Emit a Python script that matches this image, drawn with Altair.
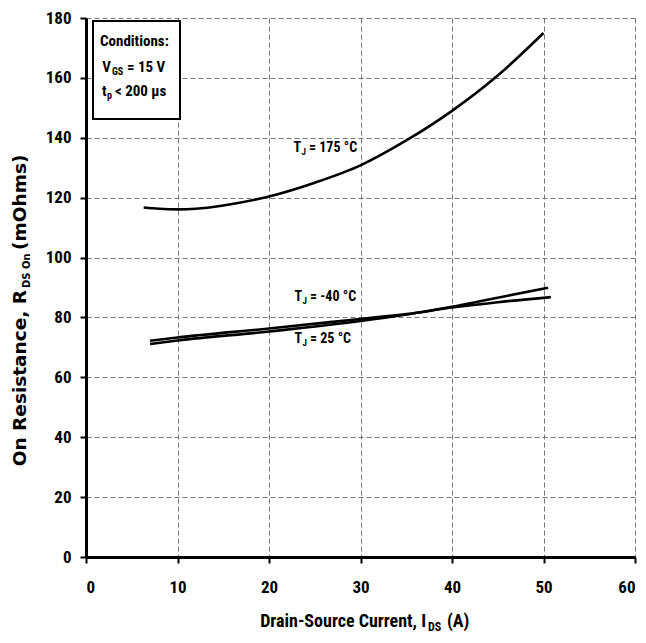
import altair as alt
import pandas as pd

# ---- data ----
x175 = [6.3, 8, 10, 12, 15, 20, 25, 30, 35, 40, 45, 50]
r175 = [116.7, 116.3, 116.1, 116.3, 117.4, 120.4, 125.0, 130.8, 139.1, 149.0, 160.8, 175.0]
xm40 = [7, 10, 20, 30, 35, 40, 45, 50.5]
rm40 = [71.1, 72.3, 75.3, 78.8, 81.0, 83.6, 86.6, 89.9]
x25 = [7, 10, 20, 30, 35, 40, 45, 50.8]
r25 = [72.2, 73.3, 76.3, 79.5, 81.1, 83.3, 85.1, 86.8]
x_ticks = [0, 10, 20, 30, 40, 50, 60]
y_ticks = [0, 20, 40, 60, 80, 100, 120, 140, 160, 180]

rows = []
for name, xs, ys in [("175", x175, r175), ("-40", xm40, rm40), ("25", x25, r25)]:
    for a, b in zip(xs, ys):
        rows.append({"series": name, "ids": a, "rds": b})
df = pd.DataFrame(rows)

NARROW = "Liberation Sans Narrow, Roboto Condensed, Roboto, sans-serif"
WIDE = "DejaVu Sans, Verdana, sans-serif"

W, H = 549, 539

axis_common = dict(title=None, grid=True, gridDash=[5, 3], gridColor="#777777", gridWidth=1,
                   domainColor="black", domainWidth=3, tickColor="black", tickWidth=2, tickSize=6,
                   labelFont=NARROW, labelFontSize=17, labelFontWeight="bold", labelColor="black")

lines = alt.Chart(df).mark_line(interpolate="monotone", color="black", strokeWidth=2.6).encode(
    x=alt.X("ids:Q", scale=alt.Scale(domain=[0, 60], nice=False),
            axis=alt.Axis(values=x_ticks, labelPadding=16, **axis_common)),
    y=alt.Y("rds:Q", scale=alt.Scale(domain=[0, 180], nice=False),
            axis=alt.Axis(values=y_ticks, labelPadding=9, **axis_common)),
    detail="series:N",
)

box = alt.Chart(pd.DataFrame({"k": [0]})).mark_rect(fill="white", stroke="black", strokeWidth=2).encode(
    x=alt.value(7), x2=alt.value(94), y=alt.value(3), y2=alt.value(101)
)


def txt(s, x, y, size, align="left", angle=0, font=NARROW, baseline="alphabetic"):
    kw = dict(text=s, fontSize=size, fontWeight="bold", font=font, align=align,
              baseline=baseline, color="black")
    if angle:
        kw["angle"] = angle
    return alt.Chart(pd.DataFrame({"k": [0]})).mark_text(**kw).encode(x=alt.value(x), y=alt.value(y))


texts = [
    # conditions box
    txt("Conditions:", 14, 28, 15),
    txt("V", 25, 54, 15, align="right"),
    txt("GS", 26, 57, 10),
    txt("= 15 V", 41, 54, 15),
    txt("t", 20.5, 78, 15, align="right"),
    txt("p", 21, 81, 10),
    txt("< 200 µs", 29, 78, 15),
    # curve labels
    txt("T", 215, 134, 14, align="right"),
    txt("J", 215.5, 137, 9),
    txt("= 175 °C", 223, 134, 14),
    txt("T", 216, 283, 14, align="right"),
    txt("J", 216.5, 286, 9),
    txt("= -40 °C", 224, 283, 14),
    txt("T", 216, 325, 14, align="right"),
    txt("J", 216.5, 328, 9),
    txt("= 25 °C", 224, 325, 14),
    # x title
    txt("Drain-Source Current, I", 340, 609, 18, align="right"),
    txt("DS", 342, 613, 12),
    txt("(A)", 361, 609, 18),
    # y title (rotated)
    txt("On Resistance, R", -60, 272, 18.5, align="right", angle=270, font=WIDE),
    txt("DS On", -56.5, 270, 10, align="left", angle=270, font=WIDE),
    txt("(mOhms)", -60, 232, 18.5, align="left", angle=270, font=WIDE),
]

chart = alt.layer(lines, box, *texts).properties(
    width=W, height=H,
    autosize=alt.AutoSizeParams(type="none"),
    padding={"left": 78, "top": 10, "right": 3, "bottom": 78},
).configure_view(stroke=None)

chart.save("out.html", embed_options={"renderer": "svg", "actions": False})
